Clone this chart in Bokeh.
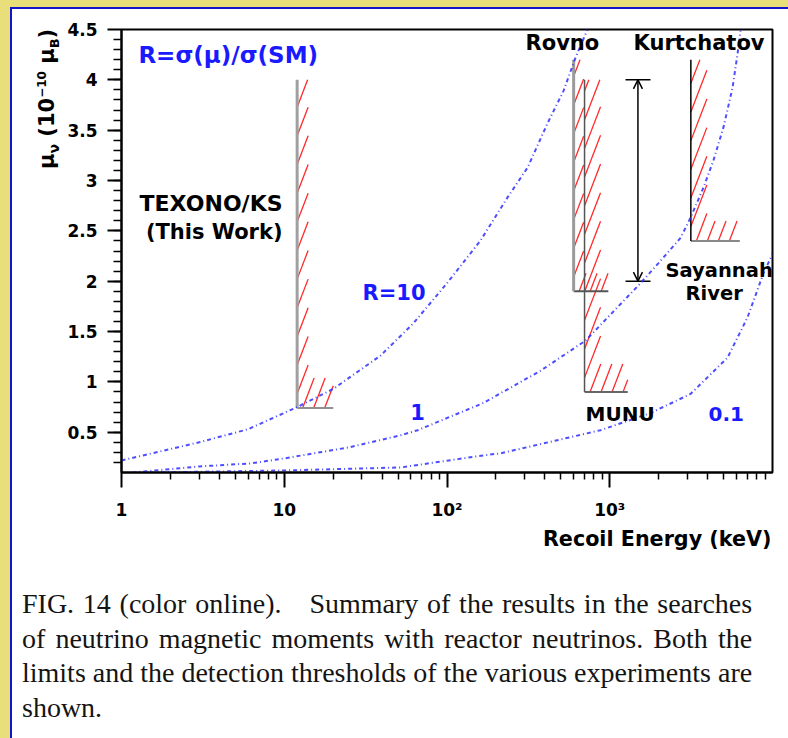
import numpy as np
from bokeh.plotting import figure
from bokeh.models import FixedTicker, Label, Arrow, OpenHead, Div, Title
from bokeh.layouts import column
from bokeh.embed import file_html
from bokeh.resources import INLINE

# ---------------- data ----------------
# iso-R curves  R = sigma(mu)/sigma(SM):  recoil energy T (keV) -> mu (1e-10 mu_B)
r10_T = [1, 3, 6, 12, 20, 39, 62, 100, 160, 235, 313, 415, 520, 616, 730]
r10_mu = [0.22, 0.40, 0.53, 0.75, 0.93, 1.26, 1.58, 1.98, 2.40, 2.83, 3.13, 3.57, 3.89, 4.22, 4.50]
r1_T = [1, 3, 6.2, 10, 25, 52, 66, 167, 375, 710, 1545, 1993, 2722, 3135, 3767, 4338, 5000, 5680, 6100, 6360]
r1_mu = [0.09, 0.16, 0.19, 0.24, 0.35, 0.47, 0.52, 0.79, 1.11, 1.41, 1.98, 2.18, 2.43, 2.63, 2.93, 3.20, 3.53, 3.92, 4.26, 4.49]
r01_T = [1.5, 10, 52, 167, 213, 877, 1778, 3135, 5290, 7020, 8810, 10000]
r01_mu = [0.10, 0.12, 0.15, 0.27, 0.29, 0.52, 0.69, 0.88, 1.24, 1.64, 2.08, 2.27]

# experiments: threshold (keV), end of range (keV), limit and top of the bar (1e-10 mu_B)
exp_names = ["TEXONO/KS", "Rovno", "MUNU", "Kurtchatov"]
exp_threshold = [12, 600, 700, 3150]
exp_end = [20, 980, 1290, 6300]
exp_limit = [0.74, 1.9, 0.9, 2.4]
exp_top = [4.0, 4.2, 4.0, 4.2]

# Savannah River
sr_T = 1490
sr_low = 2.0
sr_high = 4.0
sr_cap = [1250, 1780]

x_major = [1, 10, 100, 1000]
x_labels = ["1", "10", "10\u00b2", "10\u00b3"]
y_major = [0.5, 1.0, 1.5, 2.0, 2.5, 3.0, 3.5, 4.0, 4.5]
y_labels = ["0.5", "1", "1.5", "2", "2.5", "3", "3.5", "4", "4.5"]

x_title = "Recoil Energy (keV)"
caption_lines = [
    "FIG. 14 (color online).\u2003Summary of the results in the searches",
    "of neutrino magnetic moments with reactor neutrinos. Both the",
    "limits and the detection thresholds of the various experiments are",
    "shown.",
]

# ---------------- styles ----------------
W, H = 788, 560
ML, MR, MT, MB = 121, 16, 29, 88
X0, X1 = 1, 1e4
Y0, Y1 = 0.1, 4.5
FONT = "DejaVu Sans"
BLUE = "#1a1aff"
YELLOW = "#e8de7a"
FRAME_BLUE = "#1414c8"

band_w = [11, 10, 16, 16]     # px, hatched band right of the threshold line
band_h = [30, 18, 28, 20]     # px, hatched band above the limit line
vcol = ["#a0a0a0", "#9a9a9a", "#555555", "#000000"]
vwid = [3, 3, 1.5, 1.5]
hcol = ["#909090", "#555555", "#666666", "#888888"]

PXD = (W - ML - MR) / np.log10(X1 / X0)
PXU = (H - MT - MB) / (Y1 - Y0)


def hatch(T0, T1, lim, top, bw, bh, step=11.0, ang=69.0):
    a0, a1 = np.log10(T0) * PXD, np.log10(T1) * PXD
    b0, bt = lim * PXU, top * PXU
    k = 1.0 / np.tan(np.radians(ang))
    rects = [(a0, a0 + bw, b0, bt), (a0, a1, b0, b0 + bh)]
    start = a0 + 0.5 * step - np.ceil((bt - b0) * k / step + 1) * step
    out = []
    for c in np.arange(start, a1, step):
        ivs = []
        for xa, xb, ya, yb in rects:
            lo = max(ya, b0 + (xa - c) / k)
            hi = min(yb, b0 + (xb - c) / k)
            if hi > lo:
                ivs.append([lo, hi])
        ivs.sort()
        merged = []
        for iv in ivs:
            if merged and iv[0] <= merged[-1][1] + 1e-9:
                merged[-1][1] = max(merged[-1][1], iv[1])
            else:
                merged.append(iv)
        for lo, hi in merged:
            xa = c + (lo - b0) * k
            xb = c + (hi - b0) * k
            out.append((10 ** (xa / PXD), lo / PXU, 10 ** (xb / PXD), hi / PXU))
    return out


p = figure(width=W, height=H, x_axis_type="log", x_range=(X0, X1), y_range=(Y0, Y1),
           output_backend="svg", toolbar_location=None,
           min_border_left=ML, min_border_right=MR, min_border_top=MT, min_border_bottom=MB,
           border_fill_color=None, background_fill_color="white",
           outline_line_color="black", outline_line_width=2)
p.styles = {
    "background": (f"linear-gradient({FRAME_BLUE},{FRAME_BLUE}) 10px 7px/2px 100% no-repeat, "
                   f"linear-gradient({FRAME_BLUE},{FRAME_BLUE}) 10px 7px/100% 2px no-repeat, "
                   f"linear-gradient(#ffffff,#ffffff) 10px 7px/100% 100% no-repeat, {YELLOW}")
}
p.xgrid.visible = False
p.ygrid.visible = False

# axes
x_minor = [m * d for d in [1, 10, 100, 1000] for m in range(2, 10)]
p.xaxis.ticker = FixedTicker(ticks=x_major, minor_ticks=x_minor)
p.xaxis.major_label_overrides = dict(zip(x_major, x_labels))
y_minor = [round(0.1 * i, 1) for i in range(2, 45)]
p.yaxis.ticker = FixedTicker(ticks=y_major, minor_ticks=y_minor)
p.yaxis.major_label_overrides = dict(zip(y_major, y_labels))
for ax in (p.xaxis, p.yaxis):
    ax.axis_line_width = 2
    ax.axis_line_color = "black"
    ax.major_tick_line_width = 2
    ax.minor_tick_line_width = 1.5
    ax.major_tick_in = 0
    ax.minor_tick_in = 0
    ax.major_label_text_font = FONT
    ax.major_label_text_font_style = "bold"
    ax.major_label_text_font_size = "17px"
    ax.major_label_text_color = "black"
p.xaxis.major_tick_out = 15
p.xaxis.minor_tick_out = 7
p.xaxis.major_label_standoff = 12
p.yaxis.major_tick_out = 14
p.yaxis.minor_tick_out = 8
p.yaxis.major_label_standoff = 10

p.add_layout(Title(text=x_title, align="right", offset=1, standoff=5, text_font=FONT,
                   text_font_style="bold", text_font_size="20.7px", text_color="black"), "below")

# hatching
for i in range(len(exp_names)):
    segs = hatch(exp_threshold[i], exp_end[i], exp_limit[i], exp_top[i], band_w[i], band_h[i])
    a = np.array(segs)
    p.segment(x0=a[:, 0], y0=a[:, 1], x1=a[:, 2], y1=a[:, 3], line_color="#ff2a2a", line_width=1.3)

# threshold / limit lines
p.segment(x0=exp_threshold, y0=exp_limit, x1=exp_end, y1=exp_limit, line_color=hcol, line_width=2)
p.segment(x0=exp_threshold, y0=exp_limit, x1=exp_threshold, y1=exp_top, line_color=vcol, line_width=vwid)

# Savannah River range
p.segment(x0=[sr_cap[0], sr_cap[0]], y0=[sr_low, sr_high], x1=[sr_cap[1], sr_cap[1]], y1=[sr_low, sr_high],
          line_color="black", line_width=1.5)
p.add_layout(Arrow(start=OpenHead(size=9, line_width=1.5), end=OpenHead(size=9, line_width=1.5),
                   x_start=sr_T, y_start=sr_low, x_end=sr_T, y_end=sr_high, line_width=1.5))

# iso-R curves
for T, mu in ((r10_T, r10_mu), (r1_T, r1_mu), (r01_T, r01_mu)):
    p.line(T, mu, line_color="#2f2fff", line_width=2, line_alpha=0.85, line_dash="4 3 1 3")


def lab(x, y, text, size, color="black", align="left"):
    p.add_layout(Label(x=x, y=y, text=text, text_font=FONT, text_font_style="bold",
                       text_font_size=f"{size}px", text_color=color, text_align=align,
                       text_baseline="middle"))


lab(1.27, 4.25, "R=\u03c3(\u03bc)/\u03c3(SM)", 23, BLUE)
lab(9.76, 2.77, "TEXONO/KS", 22, align="right")
lab(9.76, 2.49, "(This Work)", 21, align="right")
lab(30.3, 1.88, "R=10", 21, BLUE)
lab(65.9, 0.70, "1", 21, BLUE, align="center")
lab(304, 4.37, "Rovno", 21)
lab(1400, 4.37, "Kurtchatov", 21)
lab(2200, 2.11, "Sayannah", 19.5)
lab(2921, 1.88, "River", 19.5)
lab(710, 0.686, "MUNU", 20)
lab(4045, 0.686, "0.1", 20, BLUE)

# y-axis title (HTML, rotated, laid over the left margin of the figure)
ylab = ('<div style="position:relative;width:0;height:0;">'
        '<div style="position:absolute;left:35px;top:-391px;transform:rotate(-90deg);transform-origin:0 0;'
        'white-space:nowrap;font-family:\'DejaVu Sans\';font-weight:bold;font-size:21px;line-height:25px;color:#000;">'
        '\u03bc<sub style="font-size:14px;line-height:0;">\u03bd</sub> (10<sup style="font-size:12px;line-height:0;">'
        '\u221210</sup> \u03bc<sub style="font-size:13px;line-height:0;">B</sub>)</div></div>')

# caption
rows = []
for i, t in enumerate(caption_lines):
    last = i == len(caption_lines) - 1
    al = "left" if last else "justify"
    rows.append(f'<div style="text-align:{al};text-align-last:{al};">{t}</div>')
html = ylab + ('<div style="padding:27px 12px 0 22px;font-family:\'Liberation Serif\',\'Times New Roman\',serif;'
               'font-size:28px;line-height:34.5px;color:#141414;">' + "".join(rows) + "</div>")
cap = Div(text=html, width=W, height=738 - H, margin=0,
          styles={"background": (f"linear-gradient({FRAME_BLUE},{FRAME_BLUE}) 10px 0/2px 100% no-repeat, "
                                 f"linear-gradient(#ffffff,#ffffff) 10px 0/100% 100% no-repeat, {YELLOW}"),
                  "overflow": "visible"})

root = column(p, cap, spacing=0)
open("out.html", "w").write(file_html(root, INLINE))
